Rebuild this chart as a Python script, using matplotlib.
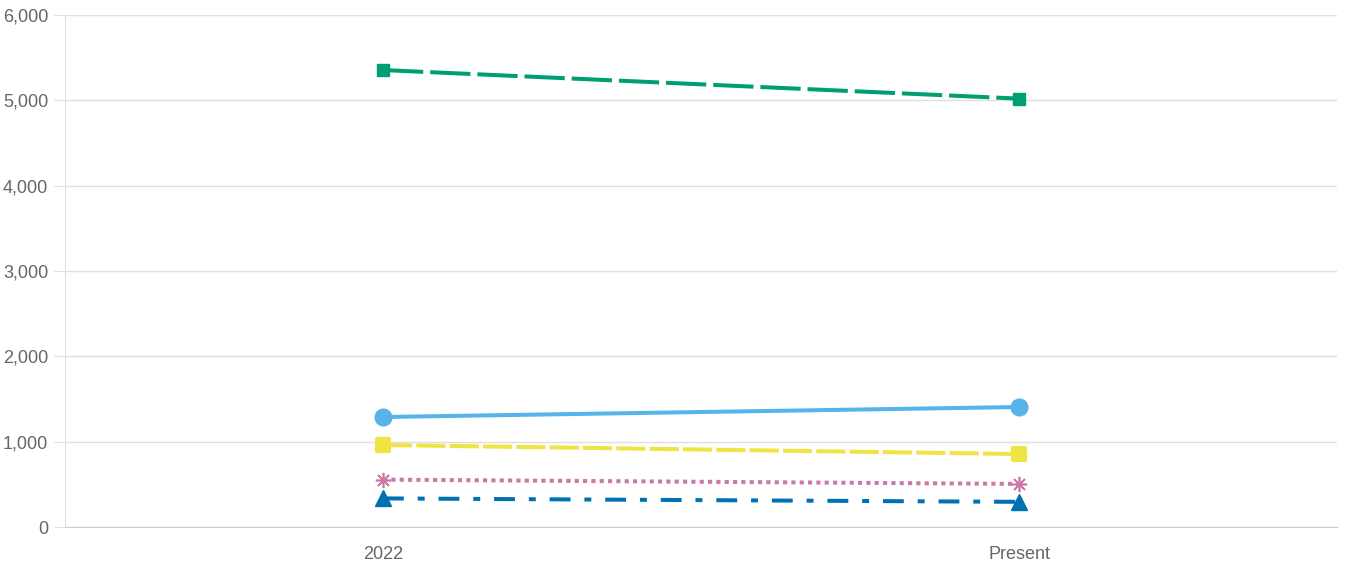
import matplotlib
matplotlib.use('Agg')
import matplotlib.pyplot as plt
from matplotlib.markers import MarkerStyle
from matplotlib.ticker import FuncFormatter

plt.rcParams['font.family'] = ['Liberation Sans', 'DejaVu Sans']
plt.rcParams['lines.scale_dashes'] = False

categories = ['2022', 'Present']
green = [5355, 5020]
sky = [1289, 1406]
yellow = [961, 855]
pink = [555, 505]
navy = [335, 295]

fig = plt.figure(figsize=(13.46, 5.70), dpi=100)
ax = fig.add_axes([65/1346, 43/570, 1272/1346, 512/570])

x = range(len(categories))
lw = 2.9
ax.plot(x, green, color='#009E73', lw=lw, dashes=(29, 5), marker='s', ms=8.5, zorder=3)
ax.plot(x, sky, color='#56B4E9', lw=lw, marker='o', ms=12, zorder=3)
ax.plot(x, yellow, color='#F0E442', lw=lw, dashes=(21, 3),
        marker=MarkerStyle('s', joinstyle='round'), ms=9, mew=3, zorder=3)
ax.plot(x, pink, color='#CC79A7', lw=lw, dashes=(3, 3), marker=(8, 2, 0), ms=11,
        mew=1.2, zorder=3)
ax.plot(x, navy, color='#0072B2', lw=lw, dashes=(15, 10, 5, 10), marker='^', ms=11, zorder=3)

ax.set_xlim(-0.5, 1.5)
ax.set_ylim(0, 6000)
ax.set_xticks(list(x))
ax.set_xticklabels(categories)
ax.set_yticks(range(0, 6001, 1000))
ax.yaxis.set_major_formatter(FuncFormatter(lambda v, p: f'{int(v):,}'))
ax.grid(axis='y', color='#e0e0e0', lw=1)
ax.set_axisbelow(True)
for s in ['top', 'right']:
    ax.spines[s].set_visible(False)
ax.spines['left'].set_color('#e0e0e0')
ax.spines['bottom'].set_color('#cccccc')
ax.tick_params(axis='y', length=8, color='#e0e0e0', labelsize=13, labelcolor='#666666', pad=4)
ax.tick_params(axis='x', length=0, labelsize=13, labelcolor='#666666', pad=14)

fig.savefig('out.png', dpi=100)
